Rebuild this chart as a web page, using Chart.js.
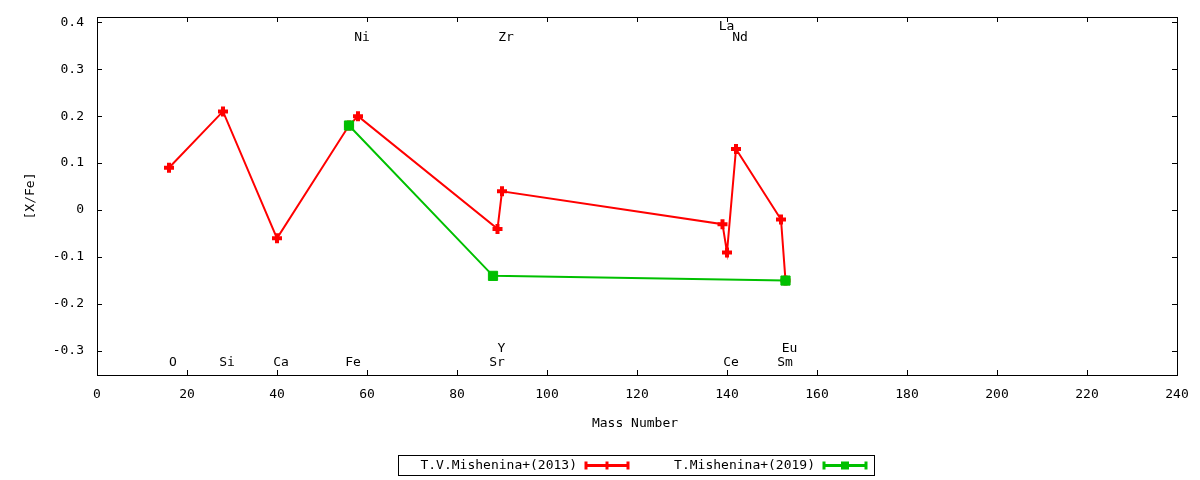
<!DOCTYPE html>
<html>
<head>
<meta charset="utf-8">
<title>[X/Fe] vs Mass Number</title>
<script src="https://cdn.jsdelivr.net/npm/chart.js@4.4.1/dist/chart.umd.min.js"></script>
<style>
  html, body { margin: 0; padding: 0; background: #fff; }
  #wrap { width: 1200px; height: 480px; }
</style>
</head>
<body>
<div id="wrap"><canvas id="chart" width="1200" height="480"></canvas></div>
<script>
// T.V.Mishenina+(2013)
const mass2013 = [16, 28, 40, 56, 58, 89, 90, 139, 140, 142, 152, 153];
const xfe2013 = [0.09, 0.21, -0.06, 0.18, 0.2, -0.04, 0.04, -0.03, -0.09, 0.13, -0.02, -0.15];

// T.Mishenina+(2019)
const mass2019 = [56, 88, 153];
const xfe2019 = [0.18, -0.14, -0.15];

// element name labels placed on the plot
const elemNames = ["O", "Si", "Ca", "Fe", "Sr", "Y", "Ce", "Sm", "Eu", "Ni", "Zr", "La", "Nd"];
const elemMass = [16, 28, 40, 56, 88, 89, 140, 152, 153, 58, 90, 139, 142];
const elemLabelY = [-0.325, -0.325, -0.325, -0.325, -0.325, -0.295, -0.325, -0.325, -0.295, 0.368, 0.368, 0.39, 0.368];

const xTicks = [0, 20, 40, 60, 80, 100, 120, 140, 160, 180, 200, 220, 240];
const yTicks = [-0.3, -0.2, -0.1, 0, 0.1, 0.2, 0.3, 0.4];

const seriesNames = ["T.V.Mishenina+(2013)", "T.Mishenina+(2019)"];
const RED = "#ff0000";
const GREEN = "#00c000";
const FONT = "DejaVu Sans Mono";

function toPoints(xs, ys) {
  return xs.map((x, i) => ({ x: x, y: ys[i] }));
}

// gnuplot-like frame, inward ticks, titles, element labels and key
const gnuplotDecor = {
  id: "gnuplotDecor",
  afterDraw(chart) {
    const ctx = chart.ctx;
    const area = chart.chartArea;
    const xs = chart.scales.x;
    const ys = chart.scales.y;
    const tick = 5;

    ctx.save();
    ctx.strokeStyle = "#000";
    ctx.lineWidth = 1;

    // ticks on all four sides
    ctx.beginPath();
    xTicks.forEach(v => {
      const px = Math.round(xs.getPixelForValue(v)) + 0.5;
      ctx.moveTo(px, area.bottom);
      ctx.lineTo(px, area.bottom - tick);
      ctx.moveTo(px, area.top);
      ctx.lineTo(px, area.top + tick);
    });
    yTicks.forEach(v => {
      const py = Math.round(ys.getPixelForValue(v)) + 0.5;
      ctx.moveTo(area.left, py);
      ctx.lineTo(area.left + tick, py);
      ctx.moveTo(area.right, py);
      ctx.lineTo(area.right - tick, py);
    });
    ctx.stroke();

    // frame
    ctx.strokeRect(Math.round(area.left) + 0.5, Math.round(area.top) + 0.5,
      Math.round(area.right - area.left), Math.round(area.bottom - area.top));

    ctx.fillStyle = "#000";
    ctx.font = "13px '" + FONT + "'";
    ctx.textBaseline = "middle";

    // element labels
    ctx.textAlign = "center";
    elemNames.forEach((name, i) => {
      ctx.fillText(name, xs.getPixelForValue(elemMass[i]) + 4, ys.getPixelForValue(elemLabelY[i]));
    });

    // axis titles
    ctx.fillText("Mass Number", (area.left + area.right) / 2 - 2, 424);
    ctx.save();
    ctx.translate(31, (area.top + area.bottom) / 2);
    ctx.rotate(-Math.PI / 2);
    ctx.fillText("[X/Fe]", 0, 0);
    ctx.restore();

    // key box
    ctx.strokeRect(398.5, 455.5, 476, 20);
    const keyY = 465.5;
    const keys = [
      { textEnd: 577, x0: 586, x1: 628, color: RED, marker: "cross" },
      { textEnd: 815, x0: 824, x1: 866, color: GREEN, marker: "square" }
    ];
    keys.forEach((k, i) => {
      ctx.fillStyle = "#000";
      ctx.textAlign = "right";
      ctx.fillText(seriesNames[i], k.textEnd, keyY);
      ctx.strokeStyle = k.color;
      ctx.fillStyle = k.color;
      ctx.lineWidth = 3;
      ctx.beginPath();
      ctx.moveTo(k.x0, keyY);
      ctx.lineTo(k.x1, keyY);
      ctx.moveTo(k.x0, keyY - 4);
      ctx.lineTo(k.x0, keyY + 4);
      ctx.moveTo(k.x1, keyY - 4);
      ctx.lineTo(k.x1, keyY + 4);
      ctx.stroke();
      const mx = (k.x0 + k.x1) / 2;
      if (k.marker === "cross") {
        ctx.beginPath();
        ctx.moveTo(mx, keyY - 4);
        ctx.lineTo(mx, keyY + 4);
        ctx.stroke();
      } else {
        ctx.fillRect(mx - 4, keyY - 4, 8, 8);
      }
    });
    ctx.restore();
  }
};

// keep the plot frame exactly where the layout padding puts it
function noLabelPadding(scale) {
  scale.paddingTop = 0;
  scale.paddingBottom = 0;
  scale.paddingLeft = 0;
  scale.paddingRight = 0;
}

const chart = new Chart(document.getElementById("chart"), {
  type: "scatter",
  data: {
    datasets: [
      {
        label: seriesNames[0],
        data: toPoints(mass2013, xfe2013),
        showLine: true,
        borderColor: RED,
        backgroundColor: RED,
        borderWidth: 2,
        pointStyle: "cross",
        pointRadius: 5,
        pointBorderWidth: 4,
        order: 1
      },
      {
        label: seriesNames[1],
        data: toPoints(mass2019, xfe2019),
        showLine: true,
        borderColor: GREEN,
        backgroundColor: GREEN,
        borderWidth: 2,
        pointStyle: "rect",
        pointRadius: 6.5,
        pointBorderWidth: 1,
        order: 0
      }
    ]
  },
  options: {
    responsive: false,
    animation: false,
    layout: { padding: { left: 0, right: 23, top: 17, bottom: 0 } },
    plugins: {
      legend: { display: false },
      tooltip: { enabled: false }
    },
    scales: {
      x: {
        type: "linear",
        min: 0,
        max: 240,
        afterFit: scale => { scale.height = 105; noLabelPadding(scale); },
        afterBuildTicks: scale => { scale.ticks = xTicks.map(v => ({ value: v })); },
        grid: { display: false, drawTicks: false },
        border: { display: false },
        ticks: {
          padding: 12,
          color: "#000",
          maxRotation: 0,
          autoSkip: false,
          font: { family: FONT, size: 13 },
          callback: v => String(v)
        }
      },
      y: {
        type: "linear",
        min: -0.351,
        max: 0.411,
        afterFit: scale => { scale.width = 97; noLabelPadding(scale); },
        afterBuildTicks: scale => { scale.ticks = yTicks.map(v => ({ value: v })); },
        grid: { display: false, drawTicks: false },
        border: { display: false },
        ticks: {
          padding: 13,
          color: "#000",
          autoSkip: false,
          font: { family: FONT, size: 13 },
          callback: v => (v === 0 ? "0" : Number(v).toFixed(1))
        }
      }
    }
  },
  plugins: [gnuplotDecor]
});
</script>
</body>
</html>
